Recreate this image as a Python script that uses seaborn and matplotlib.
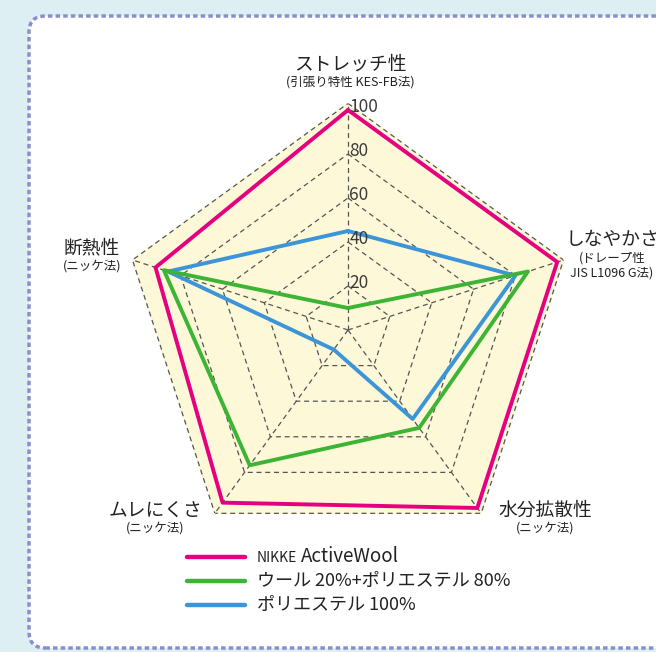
import numpy as np
import pandas as pd
import seaborn as sns
import matplotlib.pyplot as plt
from matplotlib.lines import Line2D
from matplotlib.patches import FancyBboxPatch

# axes (clockwise from top)
categories = ['ストレッチ性', 'しなやかさ', '水分拡散性', 'ムレにくさ', '断熱性']
sub_labels = ['(引張り特性 KES-FB法)', '(ドレープ性\nJIS L1096 G法)', '(ニッケ法)', '(ニッケ法)', '(ニッケ法)']

series_names = ['NIKKE ActiveWool', 'ウール 20%+ポリエステル 80%', 'ポリエステル 100%']
activewool = [100, 100, 100, 97, 92]
wool_blend = [10, 86, 55, 76, 88]
polyester = [45, 80, 50, 11, 86]

colors = ['#e5007f', '#3db435', '#3d95d9']
levels = [20, 40, 60, 80, 100]
r_outer = 103

W, H = 656, 652


def fx(px):
    return px / W


def fy(py):
    return 1 - py / H


if __name__ == "__main__":
    sns.set_theme(style="white")
    plt.rcParams['font.family'] = ['Noto Sans CJK JP', 'DejaVu Sans']

    fig = plt.figure(figsize=(W / 100, H / 100), dpi=100)
    fig.patch.set_facecolor('#ddeff3')

    # dashed rounded frame
    frame = FancyBboxPatch((fx(29), fy(648)), 1.2, fy(16) - fy(648),
                           boxstyle="round,pad=0,rounding_size=0.025",
                           transform=fig.transFigure, facecolor='white',
                           edgecolor='#8a8ecb', linewidth=2.5,
                           linestyle=(0, (1.3, 0.9)), zorder=0)
    fig.add_artist(frame)

    # polar axes: center (348, 330), 100 -> 220 px
    rad_px = 220 * r_outer / 100
    cx, cy = 348, 330
    ax = fig.add_axes([fx(cx - rad_px), fy(cy + rad_px), 2 * rad_px / W, 2 * rad_px / H],
                      projection='polar')
    ax.set_theta_offset(np.pi / 2)
    ax.set_theta_direction(-1)
    ax.patch.set_alpha(0)

    n = len(categories)
    angles = np.linspace(0, 2 * np.pi, n, endpoint=False)
    closed = np.append(angles, 2 * np.pi)

    # background pentagon and grid
    ax.fill(closed, [r_outer] * (n + 1), color='#fdf9d8', zorder=0)
    for lv in levels[:-1] + [r_outer]:
        ax.plot(closed, [lv] * (n + 1), color='#555555', lw=0.9,
                ls=(0, (4, 3)), zorder=1)
    for a in angles:
        ax.plot([a, a], [0, r_outer], color='#555555', lw=0.9,
                ls=(0, (4, 3)), zorder=1)

    rows = []
    for name, vals in zip(series_names, [activewool, wool_blend, polyester]):
        for a, v in zip(closed, vals + vals[:1]):
            rows.append({'theta': a, 'value': v, 'series': name})
    df = pd.DataFrame(rows)

    sns.lineplot(data=df, x='theta', y='value', hue='series', hue_order=series_names,
                 palette=dict(zip(series_names, colors)), sort=False, estimator=None,
                 linewidth=2.8, legend=False, ax=ax, zorder=3)
    # pink on top
    for line, z in zip(ax.lines[-3:], [5, 4, 3]):
        line.set_zorder(z)

    ax.set_ylim(0, r_outer)
    ax.set_xticks([])
    ax.set_yticks([])
    ax.set_xlabel('')
    ax.set_ylabel('')
    ax.grid(False)
    ax.spines['polar'].set_visible(False)

    for lv in levels:
        ax.annotate(str(lv), xy=(0, lv), xytext=(1, 2), textcoords='offset points',
                    ha='left', va='center', fontsize=12.5, color='#3a3a3a', zorder=6)

    # category labels
    label_pos = [(350, 64), (612, 240), (545, 510), (155, 510), (92, 248)]
    for (px, py), cat, sub in zip(label_pos, categories, sub_labels):
        fig.text(fx(px), fy(py), cat, ha='center', va='center', fontsize=13.5, color='#222222')
        fig.text(fx(px), fy(py + 12), sub, ha='center', va='top', fontsize=9,
                 color='#222222', linespacing=1.2)

    # legend
    for i, (name, c) in enumerate(zip(series_names, colors)):
        y = 557 + 24 * i
        fig.add_artist(Line2D([fx(187), fx(245)], [fy(y), fy(y)], color=c, lw=3.2,
                              transform=fig.transFigure))
        if i == 0:
            fig.text(fx(257), fy(y + 1), 'NIKKE', ha='left', va='center', fontsize=10, color='#222222')
            fig.text(fx(301), fy(y), 'ActiveWool', ha='left', va='center', fontsize=13.5, color='#222222')
        else:
            fig.text(fx(257), fy(y), name, ha='left', va='center', fontsize=13, color='#222222')

    plt.savefig('out.png', dpi=100)
    plt.close()
